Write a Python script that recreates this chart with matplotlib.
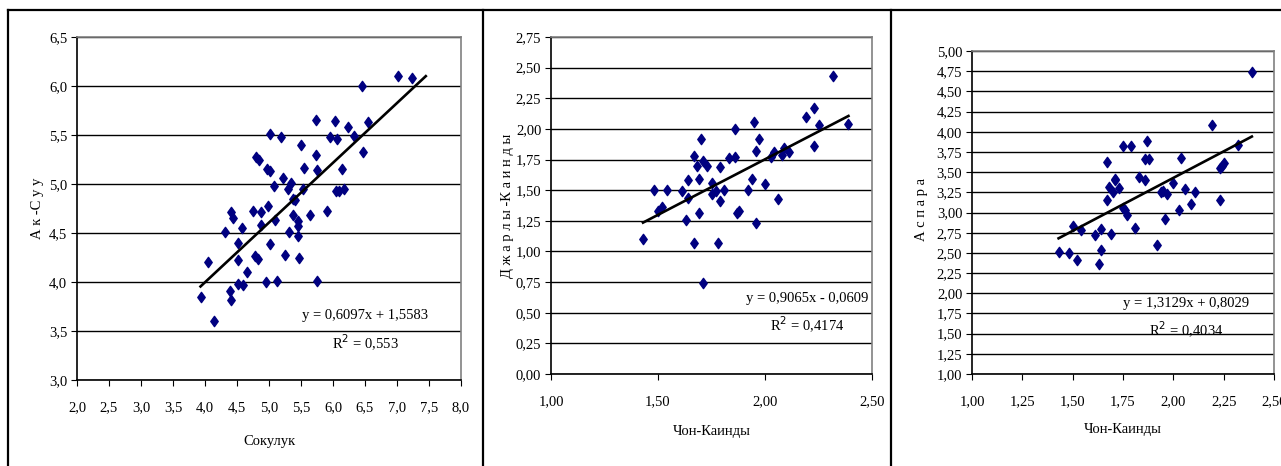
import numpy as np
import matplotlib.pyplot as plt
from matplotlib.lines import Line2D
from matplotlib.path import Path
from matplotlib.ticker import FuncFormatter, MultipleLocator

# --- data ---
sokuluk = [3.93, 4.04, 4.14, 4.31, 4.39, 4.40, 4.41, 4.44, 4.51, 4.51, 4.52, 4.58,
           4.59, 4.66, 4.75, 4.78, 4.80, 4.83, 4.85, 4.87, 4.87, 4.96, 4.97, 4.99,
           5.01, 5.01, 5.02, 5.08, 5.10, 5.13, 5.18, 5.22, 5.25, 5.30, 5.32, 5.34,
           5.37, 5.38, 5.41, 5.46, 5.46, 5.46, 5.47, 5.50, 5.53, 5.55, 5.64, 5.74,
           5.74, 5.75, 5.75, 5.90, 5.96, 6.03, 6.05, 6.07, 6.10, 6.14, 6.17, 6.24,
           6.33, 6.45, 6.47, 6.55, 7.02, 7.23]
ak_suu = [3.85, 4.20, 3.60, 4.51, 3.91, 3.82, 4.71, 4.65, 4.40, 4.22, 3.98, 4.55,
          3.97, 4.10, 4.72, 4.27, 5.28, 4.23, 5.25, 4.71, 4.58, 4.00, 5.15, 4.78,
          5.13, 5.51, 4.39, 4.98, 4.63, 4.01, 5.48, 5.06, 4.28, 4.95, 4.51, 5.01,
          4.85, 4.68, 4.84, 4.62, 4.57, 4.47, 4.25, 5.40, 4.95, 5.16, 4.68, 5.65,
          5.30, 5.14, 4.01, 4.72, 5.48, 5.64, 4.93, 5.46, 4.93, 5.15, 4.95, 5.58,
          5.49, 6.00, 5.33, 5.63, 6.10, 6.08]

chon_kaindy_2 = [1.43, 1.48, 1.50, 1.52, 1.54, 1.61, 1.63, 1.64, 1.64, 1.67, 1.67,
                 1.68, 1.69, 1.69, 1.70, 1.71, 1.71, 1.73, 1.75, 1.75, 1.77, 1.78,
                 1.79, 1.79, 1.81, 1.83, 1.86, 1.86, 1.87, 1.88, 1.92, 1.94, 1.95,
                 1.96, 1.96, 1.97, 2.00, 2.03, 2.04, 2.06, 2.08, 2.09, 2.11, 2.19,
                 2.23, 2.23, 2.25, 2.32, 2.39]
djarly_kaindy = [1.10, 1.505, 1.33, 1.36, 1.505, 1.49, 1.255, 1.58, 1.44, 1.07, 1.78,
                 1.70, 1.59, 1.31, 1.92, 1.74, 0.74, 1.70, 1.56, 1.47, 1.49, 1.07,
                 1.69, 1.41, 1.50, 1.76, 2.00, 1.77, 1.31, 1.33, 1.50, 1.59, 2.06,
                 1.82, 1.23, 1.92, 1.55, 1.77, 1.81, 1.43, 1.79, 1.845, 1.81, 2.10,
                 2.17, 1.86, 2.03, 2.43, 2.04]

chon_kaindy_3 = [1.43, 1.48, 1.50, 1.52, 1.54, 1.61, 1.63, 1.64, 1.64, 1.67, 1.67,
                 1.68, 1.69, 1.70, 1.71, 1.71, 1.73, 1.75, 1.75, 1.76, 1.77, 1.79,
                 1.81, 1.83, 1.86, 1.86, 1.87, 1.88, 1.92, 1.94, 1.95, 1.96, 1.97,
                 2.00, 2.03, 2.04, 2.06, 2.09, 2.11, 2.19, 2.23, 2.23, 2.24, 2.25,
                 2.32, 2.39]
aspara = [2.51, 2.50, 2.83, 2.41, 2.78, 2.72, 2.36, 2.80, 2.54, 3.63, 3.16,
          3.32, 2.73, 3.26, 3.42, 3.40, 3.30, 3.82, 3.05, 3.03, 2.97, 3.82,
          2.81, 3.44, 3.66, 3.40, 3.88, 3.66, 2.60, 3.25, 3.27, 2.92, 3.23,
          3.36, 3.03, 3.67, 3.29, 3.10, 3.26, 4.08, 3.15, 3.55, 3.58, 3.61,
          3.83, 4.74]

fits = [(0.6097, 1.5583, "y = 0,6097x + 1,5583", "R$^2$ = 0,553", (3.93, 7.45)),
        (0.9065, -0.0609, "y = 0,9065x - 0,0609", "R$^2$ = 0,4174", (1.43, 2.39)),
        (1.3129, 0.8029, "y = 1,3129x + 0,8029", "R$^2$ = 0,4034", (1.43, 2.39))]

plt.rcParams['font.family'] = ['Liberation Serif', 'DejaVu Serif']
plt.rcParams['font.size'] = 10

W, H = 1281, 466
fig = plt.figure(figsize=(W / 100, H / 100), dpi=100)

def px_axes(l, r, t, b):
    return fig.add_axes([l / W, 1 - b / H, (r - l) / W, (b - t) / H])

diamond = Path([(0, 1), (0.72, 0), (0, -1), (-0.72, 0), (0, 1)],
               [Path.MOVETO, Path.LINETO, Path.LINETO, Path.LINETO, Path.CLOSEPOLY])

panels = [
    dict(box=(77, 461, 37, 380), x=sokuluk, y=ak_suu, xlim=(2, 8), ylim=(3, 6.5),
         xstep=0.5, ystep=0.5, dec=1, xlabel="Сокулук", ylabel="А к -С у у",
         xl=(0.5, -0.18), yl=(-0.104, 0.5), eq=(0.75, 0.187, 0.108)),
    dict(box=(551, 872, 37, 374), x=chon_kaindy_2, y=djarly_kaindy, xlim=(1, 2.5),
         ylim=(0, 2.75), xstep=0.5, ystep=0.25, dec=2, xlabel="Чон-Каинды",
         ylabel="Д ж а р л ы -К а и н д ы", xl=(0.5, -0.172), yl=(-0.134, 0.5),
         eq=(0.797, 0.223, 0.145)),
    dict(box=(972, 1274, 51, 374), x=chon_kaindy_3, y=aspara, xlim=(1, 2.5),
         ylim=(1, 5), xstep=0.25, ystep=0.25, dec=2, xlabel="Чон-Каинды",
         ylabel="А с п а р а", xl=(0.5, -0.173), yl=(-0.166, 0.508),
         eq=(0.709, 0.217, 0.136)),
]

for p, (slope, icpt, eq, r2, (x0, x1)) in zip(panels, fits):
    ax = px_axes(*p['box'])
    ax.set_xlim(*p['xlim'])
    ax.set_ylim(*p['ylim'])
    ax.xaxis.set_major_locator(MultipleLocator(p['xstep']))
    ax.yaxis.set_major_locator(MultipleLocator(p['ystep']))
    d = p['dec']
    fmt = FuncFormatter(lambda v, _, d=d: f"{v:.{d}f}".replace('.', ','))
    ax.xaxis.set_major_formatter(fmt)
    ax.yaxis.set_major_formatter(fmt)
    ax.grid(axis='y', color='black', lw=1.0)
    ax.set_axisbelow(True)
    for s in ('top', 'right'):
        ax.spines[s].set_color('#808080')
        ax.spines[s].set_linewidth(1.2)
    for s in ('left', 'bottom'):
        ax.spines[s].set_color('black')
        ax.spines[s].set_linewidth(1.2)
    ax.tick_params(axis='x', direction='out', length=4, pad=11, labelsize=10.5)
    ax.tick_params(axis='y', direction='out', length=4, pad=3, labelsize=10.5)

    ax.scatter(p['x'], p['y'], marker=diamond, s=55, color='#000080', zorder=3)
    xs = np.array([x0, x1])
    ax.plot(xs, slope * xs + icpt, color='black', lw=1.9, zorder=4)

    ax.set_xlabel(p['xlabel'], fontsize=10.5, va='center')
    ax.xaxis.set_label_coords(*p['xl'])
    ax.set_ylabel(p['ylabel'], fontsize=10.5, va='center')
    ax.yaxis.set_label_coords(*p['yl'])

    ex, ey, ry = p['eq']
    ax.text(ex, ey, eq, transform=ax.transAxes, ha='center', va='center', fontsize=10.5)
    ax.text(ex, ry, r2, transform=ax.transAxes, ha='center', va='center', fontsize=10.5)

# table borders around the three cells
for x in (8, 483, 891):
    fig.add_artist(Line2D([x / W, x / W], [0, 1 - 10 / H], color='black', lw=1.6))
fig.add_artist(Line2D([8 / W, 1], [1 - 10 / H, 1 - 10 / H], color='black', lw=1.6))

fig.savefig("out.png", dpi=100)
